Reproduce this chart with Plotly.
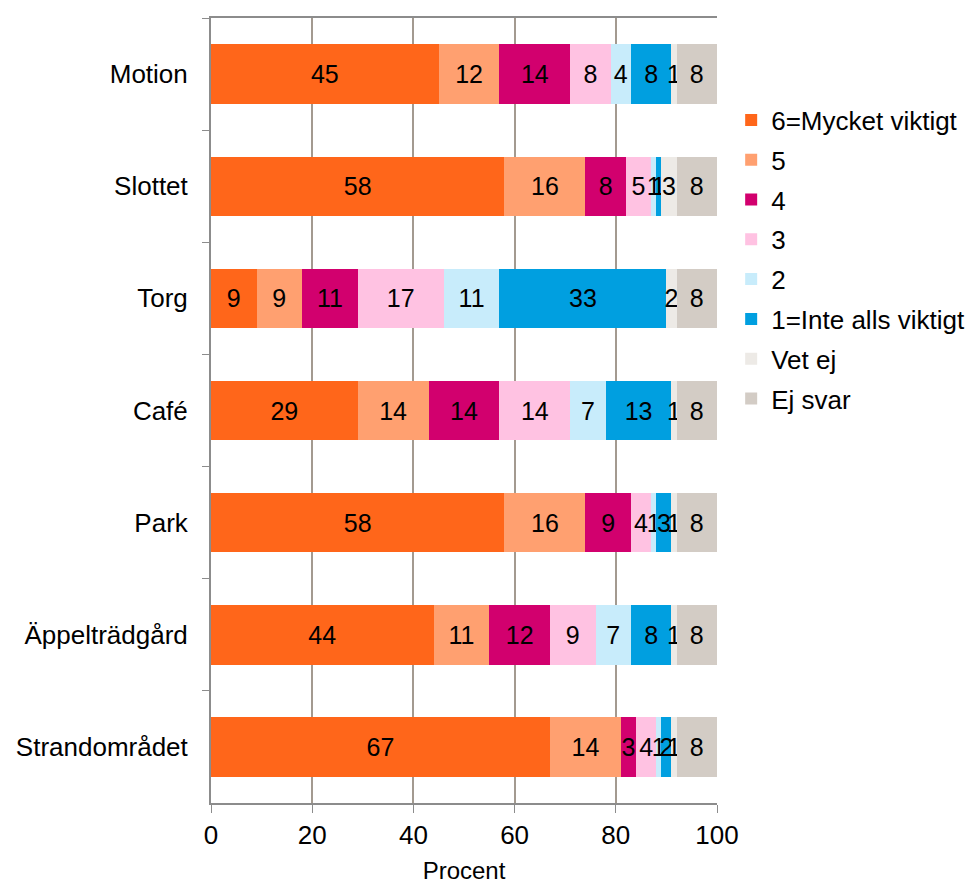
import plotly.graph_objects as go

categories = ["Motion", "Slottet", "Torg", "Café", "Park", "Äppelträdgård", "Strandområdet"]
series_names = ["6=Mycket viktigt", "5", "4", "3", "2", "1=Inte alls viktigt", "Vet ej", "Ej svar"]

v6 = [45, 58, 9, 29, 58, 44, 67]
v5 = [12, 16, 9, 14, 16, 11, 14]
v4 = [14, 8, 11, 14, 9, 12, 3]
v3 = [8, 5, 17, 14, 4, 9, 4]
v2 = [4, 1, 11, 7, 1, 7, 1]
v1 = [8, 1, 33, 13, 3, 8, 2]
vet_ej = [1, 3, 2, 1, 1, 1, 1]
ej_svar = [8, 8, 8, 8, 8, 8, 8]

series_values = [v6, v5, v4, v3, v2, v1, vet_ej, ej_svar]
colors = ["#FF661A", "#FFA070", "#D2006E", "#FFC2E2", "#C8ECFB", "#009FE0", "#EDEAE6", "#D3CCC5"]

x_ticks = [0, 20, 40, 60, 80, 100]

FONT = "Liberation Sans, Arial, sans-serif"
FS = 26

fig = go.Figure()
for name, vals, col in zip(series_names, series_values, colors):
    fig.add_trace(go.Bar(
        y=categories, x=vals, name=name, orientation="h",
        legendgroup=name,
        marker=dict(color=col, line=dict(width=0)),
        text=vals, texttemplate="%{text}", textposition="inside",
        insidetextanchor="middle",
        textfont=dict(color="black", size=25, family=FONT),
        constraintext="none", cliponaxis=False,
    ))

fig.update_layout(
    barmode="stack",
    bargap=0.47,
    width=965, height=876,
    margin=dict(l=203, r=256, t=10, b=81, autoexpand=False),
    paper_bgcolor="white", plot_bgcolor="white",
    font=dict(family=FONT, size=FS, color="black"),
    uniformtext=dict(mode="show", minsize=25),
    showlegend=True,
    legend=dict(
        x=1.028, y=0.9, xanchor="left", yanchor="top",
        font=dict(size=FS, family=FONT),
        traceorder="grouped", tracegroupgap=3, itemwidth=30,
        bgcolor="rgba(0,0,0,0)",
    ),
    xaxis=dict(
        range=[0, 100], tickvals=x_ticks, ticks="outside", ticklen=8,
        tickcolor="#8C8C8C", showgrid=True, gridcolor="#A39A90", gridwidth=1.5,
        showline=True, linecolor="#8C8C8C", linewidth=2, mirror=True,
        zeroline=False, tickfont=dict(size=FS), automargin=False,
        title=dict(text="Procent", font=dict(size=24), standoff=13),
    ),
    yaxis=dict(
        type="category", categoryorder="array", categoryarray=categories,
        autorange="reversed", tickson="boundaries", ticks="outside", ticklen=7,
        tickcolor="#8C8C8C", showgrid=False, showline=True,
        linecolor="#8C8C8C", linewidth=2, tickfont=dict(size=FS),
        ticklabelstandoff=16, automargin=False,
    ),
)

fig.write_html("out.html")
